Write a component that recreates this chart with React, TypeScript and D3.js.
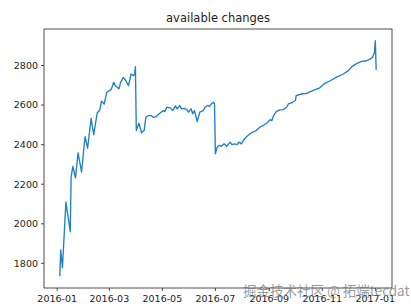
import React from "react";
import * as d3 from "d3";

const dates: string[] = [
  "2016-01-04","2016-01-05","2016-01-07","2016-01-11","2016-01-16","2016-01-17","2016-01-19","2016-01-22","2016-01-25","2016-01-29",
  "2016-02-02","2016-02-05","2016-02-09","2016-02-12","2016-02-16","2016-02-19","2016-02-21","2016-02-24","2016-02-27",
  "2016-03-01","2016-03-03","2016-03-06","2016-03-08","2016-03-10","2016-03-12","2016-03-14","2016-03-17","2016-03-20","2016-03-23","2016-03-26","2016-03-29","2016-03-30","2016-03-31",
  "2016-04-01","2016-04-04","2016-04-07","2016-04-10","2016-04-12","2016-04-15","2016-04-18","2016-04-21","2016-04-24","2016-04-28",
  "2016-05-02","2016-05-04","2016-05-06","2016-05-10","2016-05-13","2016-05-16","2016-05-18","2016-05-21","2016-05-23","2016-05-26","2016-05-29","2016-05-31",
  "2016-06-03","2016-06-05","2016-06-07","2016-06-10","2016-06-13","2016-06-17","2016-06-19","2016-06-22","2016-06-24","2016-06-27","2016-06-29","2016-06-30",
  "2016-07-01","2016-07-03","2016-07-05","2016-07-08","2016-07-11","2016-07-14","2016-07-18","2016-07-20","2016-07-23","2016-07-26","2016-07-28","2016-07-31",
  "2016-08-02","2016-08-06","2016-08-10","2016-08-13","2016-08-17","2016-08-21","2016-08-25","2016-08-29",
  "2016-09-02","2016-09-04","2016-09-06","2016-09-09","2016-09-13","2016-09-17","2016-09-21","2016-09-23","2016-09-28",
  "2016-10-01","2016-10-02","2016-10-08","2016-10-14","2016-10-21","2016-10-29",
  "2016-11-04","2016-11-10","2016-11-17","2016-11-25",
  "2016-12-01","2016-12-05","2016-12-10","2016-12-16","2016-12-22","2016-12-26","2016-12-29","2016-12-31",
  "2017-01-01","2017-01-02"
];

const values: number[] = [
  1735,1868,1778,2110,1960,2236,2290,2232,2358,2262,
  2440,2383,2533,2450,2560,2575,2620,2605,2665,
  2673,2678,2715,2698,2690,2682,2715,2740,2723,2698,2757,2749,2755,2794,
  2471,2508,2460,2471,2538,2547,2547,2538,2542,2559,
  2572,2567,2589,2586,2572,2596,2581,2598,2581,2583,2577,2564,
  2581,2556,2572,2517,2564,2572,2589,2598,2594,2609,2614,2606,
  2354,2387,2396,2392,2404,2392,2413,2400,2404,2400,2413,2404,
  2421,2441,2455,2463,2471,2488,2497,2508,
  2526,2522,2547,2567,2576,2577,2589,2606,2614,
  2623,2648,2656,2659,2673,2687,
  2710,2723,2740,2757,
  2774,2794,2808,2821,2824,2832,2843,2866,
  2925,2778
];

const yTicks: number[] = [1800, 2000, 2200, 2400, 2600, 2800];
const xTickDates: string[] = ["2016-01-01","2016-03-01","2016-05-01","2016-07-01","2016-09-01","2016-11-01","2017-01-01"];
const title = "available changes";
const watermark = "掘金技术社区 @ 拓端tecdat";

export default function App() {
  const W = 411, H = 307;
  const m = { left: 44, right: 392, top: 29, bottom: 288 };
  const parse = d3.utcParse("%Y-%m-%d");
  const pts = dates.map((d, i) => ({ t: parse(d) as Date, v: values[i] }));

  const [t0, t1] = d3.extent(pts, (p) => +p.t) as [number, number];
  const tp = (t1 - t0) * 0.05;
  const x = d3.scaleUtc().domain([new Date(t0 - tp), new Date(t1 + tp)]).range([m.left, m.right]);

  const [v0, v1] = d3.extent(values) as [number, number];
  const vp = (v1 - v0) * 0.05;
  const y = d3.scaleLinear().domain([v0 - vp, v1 + vp]).range([m.bottom, m.top]);

  const line = d3.line<{ t: Date; v: number }>().x((p) => x(p.t)).y((p) => y(p.v));
  const fmt = d3.utcFormat("%Y-%m");
  const font = "DejaVu Sans, sans-serif";

  return (
    <svg width={W} height={H} style={{ position: "fixed", left: 0, top: 0, background: "#fff" }} fontFamily={font}>
      <rect x={0} y={0} width={W} height={H} fill="#fff" />
      <path d={line(pts) || ""} fill="none" stroke="#1f80c2" strokeWidth={1.35} strokeLinejoin="round" />
      <rect x={m.left} y={m.top} width={m.right - m.left} height={m.bottom - m.top} fill="none" stroke="#222" strokeWidth={0.8} />
      {yTicks.map((t) => (
        <g key={t}>
          <line x1={m.left - 3} x2={m.left} y1={y(t)} y2={y(t)} stroke="#222" strokeWidth={0.8} />
          <text x={m.left - 6} y={y(t)} dy="0.35em" textAnchor="end" fontSize={9.5} fill="#222">{t}</text>
        </g>
      ))}
      {xTickDates.map((s) => {
        const d = parse(s) as Date;
        const px = x(d);
        return (
          <g key={s}>
            <line x1={px} x2={px} y1={m.bottom} y2={m.bottom + 3} stroke="#222" strokeWidth={0.8} />
            <text x={px} y={m.bottom + 13.5} textAnchor="middle" fontSize={9.5} fill="#222">{fmt(d)}</text>
          </g>
        );
      })}
      <text x={(m.left + m.right) / 2} y={22} textAnchor="middle" fontSize={11.5} fill="#222">{title}</text>
      <text x={243} y={296} fontSize={13.5} fill="#777" fillOpacity={0.75} fontFamily="Noto Sans CJK SC, sans-serif">{watermark}</text>
    </svg>
  );
}
